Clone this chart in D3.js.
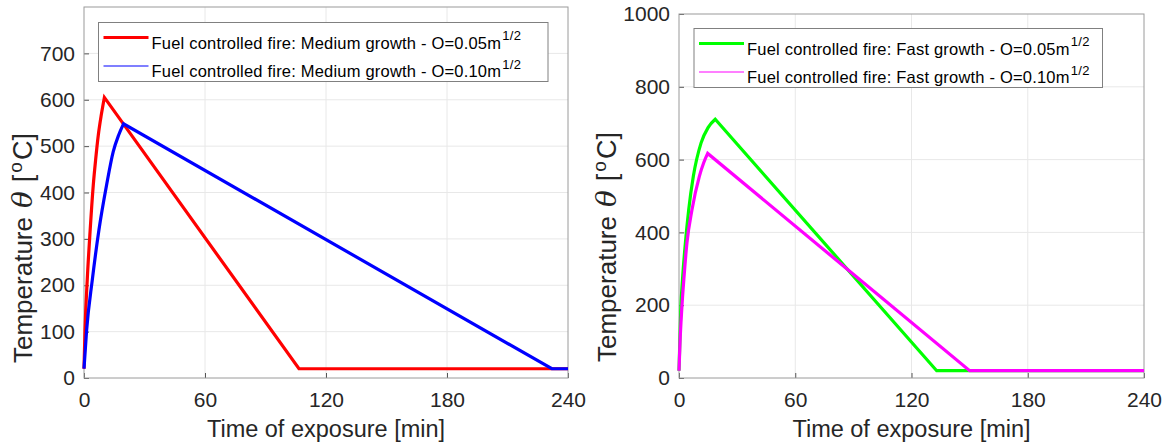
<!DOCTYPE html>
<html>
<head>
<meta charset="utf-8">
<script src="https://cdn.jsdelivr.net/npm/d3@7"></script>
<style>
  html, body { margin: 0; padding: 0; background: #fff; }
  svg { display: block; font-family: "Liberation Sans", Arial, Helvetica, sans-serif; }
</style>
</head>
<body>
<svg id="chart" width="1170" height="447"></svg>
<script>
// Time axis ticks (minutes)
const timeTicks = [0, 60, 120, 180, 240];
const tempTicksLeft = [0, 100, 200, 300, 400, 500, 600, 700];
const tempTicksRight = [0, 200, 400, 600, 800, 1000];

// Medium growth, O = 0.05 m^1/2  [time (min), temperature (°C)]
// heating phase up to the peak, then linear cooling to ambient
const mediumO005Heat = [
  [0, 20], [0.5, 103], [1.6, 211], [3.0, 315], [4.6, 416], [5.8, 472],
  [7.1, 524], [8.6, 568], [10.1, 605]
];
const mediumO005Cool = [[106.6, 20], [240, 20]];

// Medium growth, O = 0.10 m^1/2
const mediumO010Heat = [
  [0, 20], [1.3, 103], [4.1, 211], [7.4, 319], [11.2, 416], [14.5, 488],
  [17.2, 524], [19.6, 548]
];
const mediumO010Cool = [[232, 20], [240, 20]];

// Fast growth, O = 0.05 m^1/2
const fastO005Heat = [
  [0, 20], [0.9, 187], [1.9, 278], [3.3, 371], [5.0, 462], [7.4, 554],
  [11.4, 646], [15.0, 688], [18.7, 711]
];
const fastO005Cool = [[133, 20], [240, 20]];

// Fast growth, O = 0.10 m^1/2
const fastO010Heat = [
  [0, 20], [0.5, 95], [1.4, 187], [2.6, 278], [4.1, 371], [6.7, 462],
  [10.5, 554], [12.8, 592], [14.8, 617]
];
const fastO010Cool = [[150, 20], [240, 20]];

const legendLeft = ["Fuel controlled fire: Medium growth - O=0.05m", "Fuel controlled fire: Medium growth - O=0.10m"];
const legendRight = ["Fuel controlled fire: Fast growth - O=0.05m", "Fuel controlled fire: Fast growth - O=0.10m"];

const svg = d3.select("#chart");
const textColor = "#262626";

function drawPanel(cfg) {
  const g = svg.append("g");
  const x = d3.scaleLinear().domain([0, 240]).range([cfg.left, cfg.right]);
  const y = d3.scaleLinear().domain([0, cfg.yMax]).range([cfg.bottom, cfg.top]);

  // grid
  g.append("g").selectAll("line").data(timeTicks.slice(1, -1)).join("line")
    .attr("x1", d => x(d)).attr("x2", d => x(d))
    .attr("y1", cfg.top).attr("y2", cfg.bottom)
    .attr("stroke", "#e8e8e8").attr("stroke-width", 1);
  g.append("g").selectAll("line").data(cfg.yTicks.filter(d => d > 0 && d < cfg.yMax)).join("line")
    .attr("x1", cfg.left).attr("x2", cfg.right)
    .attr("y1", d => y(d)).attr("y2", d => y(d))
    .attr("stroke", "#e8e8e8").attr("stroke-width", 1);

  // axes
  const xAxis = d3.axisBottom(x).tickValues(timeTicks).tickSize(-5).tickPadding(14).tickFormat(d3.format("d"));
  const yAxis = d3.axisLeft(y).tickValues(cfg.yTicks).tickSize(-5).tickPadding(9).tickFormat(d3.format("d"));
  const gx = g.append("g").attr("transform", `translate(0,${cfg.bottom})`).call(xAxis);
  const gy = g.append("g").attr("transform", `translate(${cfg.left},0)`).call(yAxis);
  [gx, gy].forEach(a => {
    a.select(".domain").remove();
    a.selectAll(".tick line").attr("stroke", "#555").attr("stroke-width", 1);
    a.selectAll(".tick text").attr("fill", textColor).style("font-size", "21px");
  });

  // box
  g.append("rect")
    .attr("x", cfg.left).attr("y", cfg.top)
    .attr("width", cfg.right - cfg.left).attr("height", cfg.bottom - cfg.top)
    .attr("fill", "none").attr("stroke", "#9a9a9a").attr("stroke-width", 1);

  // series: smooth heating branch, straight cooling branch
  const heatLine = d3.line().x(d => x(d[0])).y(d => y(d[1])).curve(d3.curveMonotoneX);
  g.append("g").selectAll("path").data(cfg.series).join("path")
    .attr("d", s => heatLine(s.heat) + s.cool.map(d => `L${x(d[0])},${y(d[1])}`).join(""))
    .attr("fill", "none").attr("stroke", s => s.color)
    .attr("stroke-width", 3.2).attr("stroke-linejoin", "miter");

  // axis titles
  g.append("text")
    .attr("x", (cfg.left + cfg.right) / 2).attr("y", 437)
    .attr("text-anchor", "middle").attr("fill", textColor)
    .style("font-size", "23.5px")
    .text("Time of exposure [min]");

  const yt = g.append("text")
    .attr("transform", `translate(${cfg.yLabelX},${cfg.yLabelStart}) rotate(-90)`)
    .attr("text-anchor", "start").attr("fill", textColor)
    .style("font-size", "26px");
  yt.append("tspan").text("Temperature");
  yt.append("tspan").attr("dx", 9).attr("font-family", "'DejaVu Serif', 'Liberation Serif', serif")
    .attr("font-style", "italic").style("font-size", "28px").text("θ");
  yt.append("tspan").attr("dx", 9).style("font-size", "27px").text("[");
  yt.append("tspan").attr("dx", 2).attr("dy", -10).style("font-size", "19px").text("o");
  yt.append("tspan").attr("dx", 2).attr("dy", 10).style("font-size", "27px").text("C]");

  // legend
  const lg = g.append("g");
  lg.append("rect")
    .attr("x", cfg.legend.x).attr("y", cfg.legend.y)
    .attr("width", cfg.legend.w).attr("height", cfg.legend.h)
    .attr("fill", "#fff").attr("stroke", "#808080").attr("stroke-width", 1);
  cfg.series.forEach((s, i) => {
    const ly = cfg.legend.y + 15 + i * 28.5;
    lg.append("line")
      .attr("x1", cfg.legend.x + 5).attr("x2", cfg.legend.x + 50)
      .attr("y1", ly).attr("y2", ly)
      .attr("stroke", s.color).attr("stroke-width", s.legendWidth);
    const t = lg.append("text")
      .attr("x", cfg.legend.x + 53).attr("y", ly + 11)
      .attr("fill", "#000").style("font-size", "16.5px").style("letter-spacing", "0.2px");
    t.append("tspan").text(s.label);
    t.append("tspan").attr("dx", 1).attr("dy", -8.5).style("font-size", "13px").style("letter-spacing", "0.3px").text("1/2");
  });
}

drawPanel({
  left: 84, right: 568, top: 7, bottom: 378, yMax: 800,
  yTicks: tempTicksLeft,
  yLabelX: 32, yLabelStart: 363,
  legend: { x: 98.5, y: 22.5, w: 449.5, h: 59 },
  series: [
    { heat: mediumO005Heat, cool: mediumO005Cool, color: "#ff0000", label: legendLeft[0], legendWidth: 3.2 },
    { heat: mediumO010Heat, cool: mediumO010Cool, color: "#0000ff", label: legendLeft[1], legendWidth: 1.2 }
  ]
});

drawPanel({
  left: 679, right: 1144, top: 14, bottom: 378, yMax: 1000,
  yTicks: tempTicksRight,
  yLabelX: 616, yLabelStart: 362,
  legend: { x: 694, y: 28.5, w: 408.5, h: 59 },
  series: [
    { heat: fastO005Heat, cool: fastO005Cool, color: "#00ff00", label: legendRight[0], legendWidth: 3.2 },
    { heat: fastO010Heat, cool: fastO010Cool, color: "#ff00ff", label: legendRight[1], legendWidth: 1.2 }
  ]
});
</script>
</body>
</html>
